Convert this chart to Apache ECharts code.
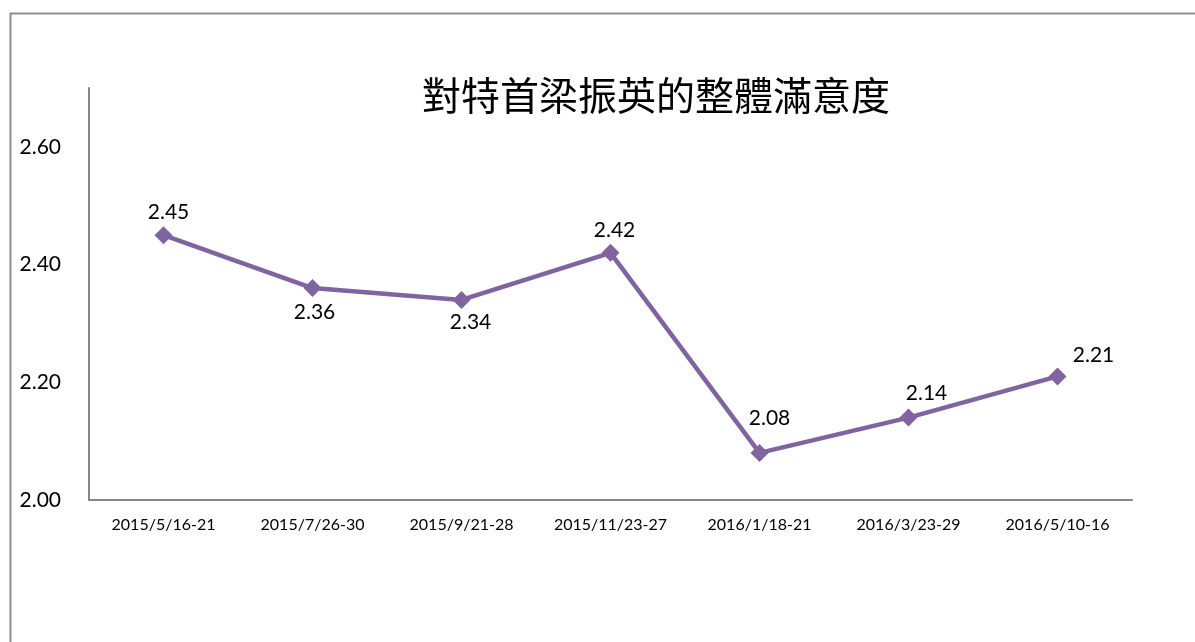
<!DOCTYPE html>
<html>
<head>
<meta charset="utf-8">
<script src="https://cdn.jsdelivr.net/npm/echarts@6/dist/echarts.min.js"></script>
<style>
	html, body { margin: 0; padding: 0; background: #fff; }
	#chart { width: 1195px; height: 642px; }
</style>
</head>
<body>
<div id="chart"></div>
<script>
	var categories = ['2015/5/16-21', '2015/7/26-30', '2015/9/21-28', '2015/11/23-27', '2016/1/18-21', '2016/3/23-29', '2016/5/10-16'];
	var satisfaction = [2.45, 2.36, 2.34, 2.42, 2.08, 2.14, 2.21];
	// label offsets (px) per point, as placed in the original
	var labelOffsets = [[5, -23], [2, 24], [9, 22], [4, -23], [10, -35], [18, -24], [36, -21]];

	var numFont = 'Lato, "Open Sans", "Noto Sans", sans-serif';

	/* data points with their own label placement */
	function buildData(values, offsets) {
		var result = [];
		for (var i = 0; i < values.length; i++) {
			result.push({
				value: values[i],
				label: {
					position: 'inside',
					offset: offsets[i]
				}
			});
		}
		return result;
	}

	var option = {
		backgroundColor: '#ffffff',
		animation: false,
		title: {
			text: '對特首梁振英的整體滿意度',
			left: 417,
			top: 71,
			textStyle: {
				fontFamily: '"Noto Sans CJK TC", "Noto Sans CJK SC", sans-serif',
				fontWeight: 'normal',
				fontSize: 39,
				color: '#000'
			}
		},
		graphic: [{
			type: 'line',
			shape: { x1: 10, y1: 13.5, x2: 1195, y2: 13.5 },
			style: { stroke: '#8e8e8e', lineWidth: 2 }
		}, {
			type: 'line',
			shape: { x1: 10.5, y1: 13, x2: 10.5, y2: 642 },
			style: { stroke: '#8e8e8e', lineWidth: 2 }
		}],
		grid: {
			left: 89,
			right: 63,
			top: 88,
			bottom: 142
		},
		xAxis: {
			type: 'category',
			data: categories,
			axisLine: { lineStyle: { color: '#868686', width: 2 } },
			axisTick: { show: false },
			axisLabel: {
				margin: 17,
				color: '#000',
				fontFamily: numFont,
				fontSize: 16,
				interval: 0
			}
		},
		yAxis: {
			type: 'value',
			min: 2,
			max: 2.7,
			interval: 0.2,
			axisLine: { show: true, lineStyle: { color: '#868686', width: 2 } },
			axisTick: { show: false },
			splitLine: { show: false },
			axisLabel: {
				margin: 28,
				color: '#000',
				fontFamily: numFont,
				fontSize: 21,
				showMaxLabel: false,
				formatter: function(v) {
					return v.toFixed(2);
				}
			}
		},
		series: [{
			name: '滿意度',
			type: 'line',
			data: buildData(satisfaction, labelOffsets),
			symbol: 'diamond',
			symbolSize: 18,
			lineStyle: { color: '#8064a2', width: 4.5 },
			itemStyle: { color: '#8064a2' },
			label: {
				show: true,
				color: '#000',
				fontFamily: numFont,
				fontSize: 21,
				formatter: function(p) {
					return p.value.toFixed(2);
				}
			}
		}]
	};

	var chart = echarts.init(document.getElementById('chart'));
	chart.setOption(option);
</script>
</body>
</html>
